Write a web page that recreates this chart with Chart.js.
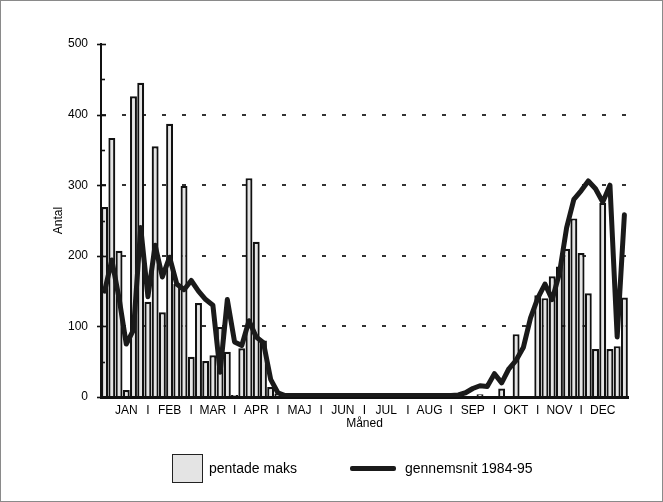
<!DOCTYPE html>
<html>
<head>
<meta charset="utf-8">
<script src="https://cdn.jsdelivr.net/npm/chart.js@4.4.0/dist/chart.umd.min.js"></script>
<style>
  html, body { margin: 0; padding: 0; background: #fff; }
  #wrap { position: relative; width: 663px; height: 502px; }
  #frame { position: absolute; left: 0; top: 0; width: 661px; height: 500px; border: 1px solid #8a8a8a; pointer-events: none; }
  .legend { position: absolute; top: 452px; left: 0; width: 663px; height: 32px;
            font-family: 'Liberation Sans', Arial, sans-serif; font-size: 14px; color: #000; }
  .legend .item { position: absolute; top: 0; height: 32px; display: flex; align-items: center; }
  .legend .box { width: 29px; height: 27px; border: 1.5px solid #222; background: #e4e4e4; margin-right: 6px; }
  .legend .line { width: 46px; height: 5px; background: #1a1a1a; border-radius: 2px; margin-right: 9px; }
</style>
</head>
<body>
<div id="wrap">
  <canvas id="chart" width="663" height="502"></canvas>
  <div class="legend" id="legend"></div>
  <div id="frame"></div>
</div>
<script>
// Måneder og pentader (73 femdagesperioder pr. år)
const months = ['JAN', 'FEB', 'MAR', 'APR', 'MAJ', 'JUN', 'JUL', 'AUG', 'SEP', 'OKT', 'NOV', 'DEC'];
const PENTADER = 73;

// pentade maks (søjler)
const pentadeMaks = [
  269, 367, 207, 10, 426, 445, 135, 355, 120, 387,
  160, 299, 57, 133, 51, 59, 99, 64, 3, 69,
  310, 220, 80, 14, 5, 0, 0, 0, 0, 0,
  0, 0, 0, 0, 0, 0, 0, 0, 0, 0,
  0, 0, 0, 0, 0, 0, 0, 0, 0, 0,
  0, 0, 4, 0, 0, 12, 0, 89, 0, 0,
  144, 140, 171, 185, 210, 253, 204, 147, 68, 275,
  68, 72, 141
];

// gennemsnit 1984-95 (linje)
const gennemsnit = [
  150, 194, 140, 75, 95, 240, 142, 215, 170, 198,
  160, 152, 165, 150, 138, 130, 35, 138, 78, 73,
  108, 85, 77, 25, 6, 2, 2, 2, 2, 2,
  2, 2, 2, 2, 2, 2, 2, 2, 2, 2,
  2, 2, 2, 2, 2, 2, 2, 2, 2, 3,
  6, 12, 16, 15, 33, 20, 40, 52, 70, 112,
  140, 160, 138, 175, 240, 280, 292, 306, 295, 276,
  300, 85, 258
];

const seriesNames = ['pentade maks', 'gennemsnit 1984-95'];
const yMax = 500;

// x-etiketter: månedsnavn midt i måneden, "I" ved månedsskift
const perMonth = PENTADER / months.length;
const xLabels = [];
for (let i = 0; i < PENTADER; i++) xLabels.push('');
months.forEach((m, k) => {
  xLabels[Math.floor(k * perMonth + 3)] = m;
  if (k > 0) xLabels[Math.floor(k * perMonth)] = 'I';
});

const FONT = "'Liberation Sans', Arial, sans-serif";

// små streger på y-aksen (store ved hver 100, små ved 50)
const yAxisMarks = {
  id: 'yAxisMarks',
  afterDraw(chart) {
    const y = chart.scales.y;
    const x0 = chart.chartArea.left;
    const ctx = chart.ctx;
    ctx.save();
    ctx.strokeStyle = '#111';
    ctx.lineWidth = 1.6;
    y.ticks.forEach(t => {
      const py = Math.round(y.getPixelForValue(t.value)) + 0.5;
      const major = t.value % 100 === 0;
      ctx.beginPath();
      ctx.moveTo(major ? x0 - 4 : x0, py);
      ctx.lineTo(x0 + (major ? 5 : 4), py);
      ctx.stroke();
    });
    ctx.restore();
  }
};

const ctx = document.getElementById('chart');
const chart = new Chart(ctx, {
  data: {
    labels: xLabels,
    datasets: [
      {
        type: 'line',
        label: seriesNames[1],
        data: gennemsnit,
        borderColor: '#1a1a1a',
        borderWidth: 5,
        borderJoinStyle: 'round',
        borderCapStyle: 'round',
        pointRadius: 0,
        tension: 0,
        order: 0
      },
      {
        type: 'bar',
        label: seriesNames[0],
        data: pentadeMaks,
        backgroundColor: '#e4e4e4',
        borderColor: '#111',
        borderWidth: 2.2,
        barPercentage: 0.96,
        categoryPercentage: 1,
        order: 1
      }
    ]
  },
  options: {
    responsive: false,
    devicePixelRatio: 1,
    animation: false,
    layout: { padding: { left: 0, right: 35, top: 44, bottom: 0 } },
    plugins: {
      legend: { display: false },
      tooltip: { enabled: false }
    },
    scales: {
      x: {
        type: 'category',
        offset: true,
        grid: { display: false, drawTicks: false },
        border: { display: true, color: '#111', width: 3 },
        ticks: {
          autoSkip: false,
          maxRotation: 0,
          minRotation: 0,
          padding: 6,
          color: '#000',
          font: { family: FONT, size: 12 }
        },
        title: {
          display: true,
          text: 'Måned',
          color: '#000',
          font: { family: FONT, size: 12 },
          padding: { top: 0, bottom: 71 }
        },
        afterFit(scale) { scale.height = 105; }
      },
      y: {
        min: 0,
        max: yMax,
        ticks: {
          stepSize: 50,
          padding: 13,
          color: '#000',
          font: { family: FONT, size: 12 },
          callback: v => (v % 100 === 0 ? String(v) : '')
        },
        grid: {
          drawTicks: false,
          lineWidth: 2,
          color: c => (c.tick && c.tick.value > 0 && c.tick.value < yMax && c.tick.value % 100 === 0)
            ? '#333' : 'rgba(0,0,0,0)'
        },
        border: { display: true, color: '#111', width: 2, dash: [4, 16] },
        title: {
          display: true,
          text: 'Antal',
          color: '#000',
          font: { family: FONT, size: 12 },
          padding: { top: 51, bottom: 0 }
        },
        afterFit(scale) { scale.width = 101; }
      }
    }
  },
  plugins: [yAxisMarks]
});

// Forklaring bygget ud fra datasættene
const legend = document.getElementById('legend');
const legendPos = { 'bar': 172, 'line': 350 };
chart.data.datasets.slice().reverse().forEach(ds => {
  const item = document.createElement('div');
  item.className = 'item';
  item.style.left = legendPos[ds.type] + 'px';
  const sw = document.createElement('span');
  sw.className = ds.type === 'bar' ? 'box' : 'line';
  const txt = document.createElement('span');
  txt.textContent = ds.label;
  item.appendChild(sw);
  item.appendChild(txt);
  legend.appendChild(item);
});
</script>
</body>
</html>
